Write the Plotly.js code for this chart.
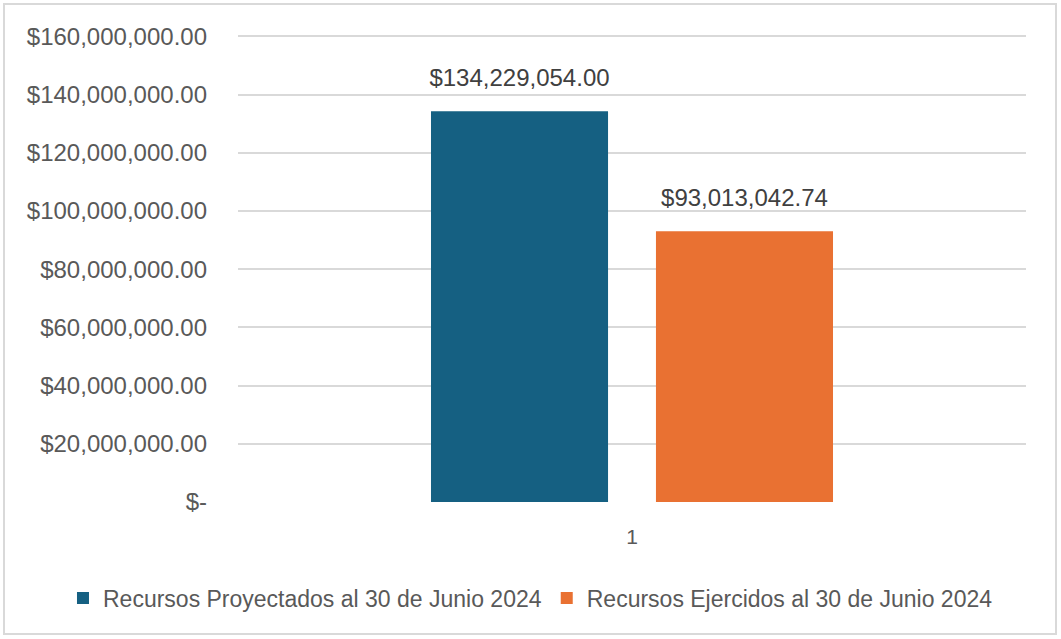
<!DOCTYPE html>
<html>
<head>
<meta charset="utf-8">
<script src="https://cdn.plot.ly/plotly-3.0.1.min.js"></script>
<style>
  html, body { margin: 0; padding: 0; background: #ffffff; }
  #wrap { position: relative; width: 1061px; height: 639px; overflow: hidden; }
  #chart { position: absolute; left: 0; top: 0; width: 1061px; height: 639px; }
  #frame { position: absolute; left: 3px; top: 3px; width: 1050px; height: 628px;
           border: 2px solid #d9d9d9; pointer-events: none; }
</style>
</head>
<body>
<div id="wrap">
  <div id="chart"></div>
  <div id="frame"></div>
</div>
<script>
const categories = ['1'];
const seriesNames = ['Recursos Proyectados al 30 de Junio 2024', 'Recursos Ejercidos al 30 de Junio 2024'];
const proyectados = [134229054.00];
const ejercidos = [93013042.74];
const tickValues = [0, 20000000, 40000000, 60000000, 80000000, 100000000, 120000000, 140000000, 160000000];
const tickLabels = ['$-', '$20,000,000.00', '$40,000,000.00', '$60,000,000.00', '$80,000,000.00',
                    '$100,000,000.00', '$120,000,000.00', '$140,000,000.00', '$160,000,000.00'];

const colors = ['#156082', '#E97132'];
const labelFont = { family: 'Liberation Sans, Arial, sans-serif', size: 24, color: '#404040' };
const seriesValues = [proyectados, ejercidos];

const traces = [];
seriesValues.forEach((vals, i) => {
  traces.push({
    type: 'bar', name: seriesNames[i], x: categories, y: vals,
    marker: { color: colors[i] }, hoverinfo: 'skip'
  });
});
seriesValues.forEach((vals, i) => {
  traces.push({
    type: 'scatter', mode: 'markers+text', name: seriesNames[i] + ' (etiqueta)',
    x: categories, y: vals, showlegend: false,
    marker: { size: 30, opacity: 0, color: colors[i] },
    texttemplate: '$%{y:,.2f}', textposition: 'top center', textfont: labelFont,
    cliponaxis: false, hoverinfo: 'skip'
  });
});

const layout = {
  width: 1061, height: 639,
  margin: { l: 238, r: 35, t: 34, b: 137 },
  paper_bgcolor: 'rgba(0,0,0,0)', plot_bgcolor: '#ffffff',
  barmode: 'group', bargap: 0.429, bargroupgap: 0.213,
  scattermode: 'group', scattergap: 0.429,
  showlegend: true,
  legend: {
    orientation: 'h', xref: 'paper', yref: 'paper',
    x: -0.2221, xanchor: 'left', y: -0.205, yanchor: 'middle',
    font: { family: 'Liberation Sans, Arial, sans-serif', size: 23, color: '#595959' },
    itemwidth: 30, traceorder: 'normal'
  },
  xaxis: {
    type: 'category', showgrid: false, zeroline: false, showline: false, ticks: '',
    tickfont: { family: 'Liberation Sans, Arial, sans-serif', size: 21, color: '#595959' },
    ticklabelstandoff: 20
  },
  yaxis: {
    range: [0, 160800000], tickvals: tickValues, ticktext: tickLabels,
    showgrid: true, gridcolor: '#d9d9d9', gridwidth: 2, zeroline: false, showline: false, ticks: '',
    tickfont: { family: 'Liberation Sans, Arial, sans-serif', size: 24, color: '#595959' },
    ticklabelstandoff: 30
  }
};

Plotly.newPlot('chart', traces, layout, { displayModeBar: false, staticPlot: true });
</script>
</body>
</html>
